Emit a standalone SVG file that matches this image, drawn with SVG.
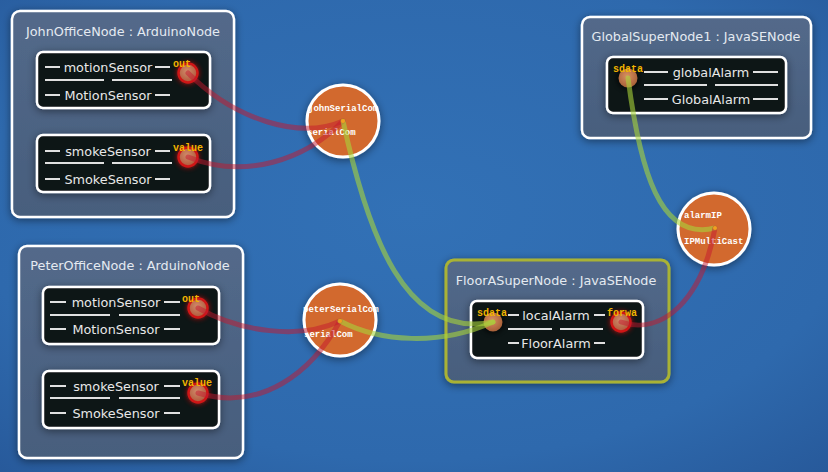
<svg xmlns="http://www.w3.org/2000/svg" width="828" height="472" viewBox="0 0 828 472">
<defs>
<radialGradient id="bg" cx="50%" cy="45%" r="75%">
<stop offset="0" stop-color="#3271b6"/>
<stop offset="0.7" stop-color="#2e69ad"/>
<stop offset="1" stop-color="#27599a"/>
</radialGradient>
<linearGradient id="panel" x1="0" y1="0" x2="0" y2="1">
<stop offset="0" stop-color="#53698a"/>
<stop offset="1" stop-color="#475e7d"/>
</linearGradient>
<radialGradient id="portRed" cx="45%" cy="40%" r="60%">
<stop offset="0" stop-color="#d08a6a"/>
<stop offset="1" stop-color="#b0583a"/>
</radialGradient>
<radialGradient id="portIn" cx="45%" cy="40%" r="60%">
<stop offset="0" stop-color="#d89060"/>
<stop offset="1" stop-color="#a86038"/>
</radialGradient>
<filter id="sh" x="-20%" y="-20%" width="140%" height="140%">
<feDropShadow dx="0" dy="2" stdDeviation="4" flood-color="#000" flood-opacity="0.45"/>
</filter>
<filter id="glow" x="-80%" y="-80%" width="260%" height="260%">
<feGaussianBlur stdDeviation="2"/>
</filter>
<style>
.outer{fill:url(#panel);stroke:#ffffff;stroke-width:2.5}
.outerA{fill:url(#panel);stroke:#a9b234;stroke-width:3}
.inner{fill:#111315;stroke:#ffffff;stroke-width:2.5}
.title{font-family:"DejaVu Sans",sans-serif;font-size:12.8px;fill:#e4eaf1;text-anchor:middle}
.row{font-family:"DejaVu Sans",sans-serif;font-size:12.8px;fill:#e8e8e8;text-anchor:middle}
.dash{stroke:#e0e0e0;stroke-width:2}
.pl{font-family:"Liberation Mono",monospace;font-weight:bold;font-size:10px;fill:#f2b400}
.pr{fill:url(#portRed);stroke:#cf1616;stroke-width:2.5}
.pi{fill:url(#portIn);stroke:none}
.hub{fill:#d2692f;stroke:#ffffff;stroke-width:3}
.hl{font-family:"Liberation Mono",monospace;font-weight:bold;font-size:9px;fill:#ffffff}
.red{fill:none;stroke:#c4182e;stroke-opacity:0.5;stroke-width:5;stroke-linecap:round}
.grn{fill:none;stroke:#a8d43a;stroke-opacity:0.6;stroke-width:5;stroke-linecap:round}
</style>
</defs>
<rect width="828" height="472" fill="url(#bg)"/>

<g id="JohnOfficeNode">
<rect class="outer" x="12" y="11" width="222" height="206" rx="8" filter="url(#sh)"/>
<text class="title" x="123" y="36">JohnOfficeNode : ArduinoNode</text>
<g id="John_motionSensor">
<rect class="inner" x="37" y="52" width="173" height="56" rx="6" filter="url(#sh)"/>
<line class="dash" x1="45" y1="67" x2="60" y2="67"/><text class="row" x="108" y="72">motionSensor</text><line class="dash" x1="155" y1="67" x2="170" y2="67"/>
<line class="dash" x1="45" y1="80" x2="104" y2="80"/><line class="dash" x1="112" y1="80" x2="172" y2="80"/>
<line class="dash" x1="45" y1="95" x2="60" y2="95"/><text class="row" x="108" y="100">MotionSensor</text><line class="dash" x1="155" y1="95" x2="170" y2="95"/>
<circle cx="188" cy="73" r="12" fill="#d01010" opacity="0.5" filter="url(#glow)"/>
<circle class="pr" cx="188" cy="73" r="9.5"/>
<text class="pl" x="173" y="67">out</text>
</g>
<g id="John_smokeSensor">
<rect class="inner" x="37" y="135" width="173" height="57" rx="6" filter="url(#sh)"/>
<line class="dash" x1="45" y1="151" x2="60" y2="151"/><text class="row" x="108" y="156">smokeSensor</text><line class="dash" x1="155" y1="151" x2="170" y2="151"/>
<line class="dash" x1="45" y1="163" x2="104" y2="163"/><line class="dash" x1="112" y1="163" x2="172" y2="163"/>
<line class="dash" x1="45" y1="179" x2="60" y2="179"/><text class="row" x="108" y="184">SmokeSensor</text><line class="dash" x1="155" y1="179" x2="170" y2="179"/>
<circle cx="188" cy="157" r="12" fill="#d01010" opacity="0.5" filter="url(#glow)"/>
<circle class="pr" cx="188" cy="157" r="9.5"/>
<text class="pl" x="173" y="151">value</text>
</g>
</g>

<g id="PeterOfficeNode">
<rect class="outer" x="19" y="246" width="224" height="212" rx="8" filter="url(#sh)"/>
<text class="title" x="130" y="270">PeterOfficeNode : ArduinoNode</text>
<g id="Peter_motionSensor">
<rect class="inner" x="43" y="287" width="176" height="57" rx="6" filter="url(#sh)"/>
<line class="dash" x1="50" y1="302" x2="66" y2="302"/><text class="row" x="116" y="307">motionSensor</text><line class="dash" x1="164" y1="302" x2="180" y2="302"/>
<line class="dash" x1="50" y1="315" x2="110" y2="315"/><line class="dash" x1="119" y1="315" x2="180" y2="315"/>
<line class="dash" x1="50" y1="329" x2="66" y2="329"/><text class="row" x="116" y="334">MotionSensor</text><line class="dash" x1="164" y1="329" x2="180" y2="329"/>
<circle cx="198" cy="308" r="12" fill="#d01010" opacity="0.5" filter="url(#glow)"/>
<circle class="pr" cx="198" cy="308" r="9.5"/>
<text class="pl" x="182" y="302">out</text>
</g>
<g id="Peter_smokeSensor">
<rect class="inner" x="43" y="371" width="176" height="57" rx="6" filter="url(#sh)"/>
<line class="dash" x1="50" y1="386" x2="66" y2="386"/><text class="row" x="116" y="391">smokeSensor</text><line class="dash" x1="164" y1="386" x2="180" y2="386"/>
<line class="dash" x1="50" y1="398" x2="110" y2="398"/><line class="dash" x1="119" y1="398" x2="180" y2="398"/>
<line class="dash" x1="50" y1="413" x2="66" y2="413"/><text class="row" x="116" y="418">SmokeSensor</text><line class="dash" x1="164" y1="413" x2="180" y2="413"/>
<circle cx="198" cy="393" r="12" fill="#d01010" opacity="0.5" filter="url(#glow)"/>
<circle class="pr" cx="198" cy="393" r="9.5"/>
<text class="pl" x="182" y="386">value</text>
</g>
</g>

<g id="FloorASuperNode">
<rect class="outerA" x="446" y="260" width="223" height="122" rx="8" filter="url(#sh)"/>
<text class="title" x="556" y="285">FloorASuperNode : JavaSENode</text>
<g id="FloorA_localAlarm">
<rect class="inner" x="471" y="301" width="172" height="57" rx="6" filter="url(#sh)"/>
<line class="dash" x1="508" y1="315" x2="519" y2="315"/><text class="row" x="556" y="320">localAlarm</text><line class="dash" x1="594" y1="315" x2="605" y2="315"/>
<line class="dash" x1="508" y1="329" x2="552" y2="329"/><line class="dash" x1="560" y1="329" x2="603" y2="329"/>
<line class="dash" x1="508" y1="343" x2="519" y2="343"/><text class="row" x="556" y="348">FloorAlarm</text><line class="dash" x1="594" y1="343" x2="605" y2="343"/>
<circle cx="493" cy="322" r="12" fill="#000" opacity="0.5" filter="url(#glow)"/>
<circle class="pi" cx="493" cy="322" r="9.5"/>
<text class="pl" x="477" y="316">sdata</text>
<circle cx="621" cy="322" r="12" fill="#d01010" opacity="0.5" filter="url(#glow)"/>
<circle class="pr" cx="621" cy="322" r="9.5"/>
<text class="pl" x="607" y="316">forwa</text>
</g>
</g>

<g id="GlobalSuperNode1">
<rect class="outer" x="582" y="17" width="229" height="121" rx="8" filter="url(#sh)"/>
<text class="title" x="696" y="41">GlobalSuperNode1 : JavaSENode</text>
<g id="Global_globalAlarm">
<rect class="inner" x="607" y="57" width="179" height="56" rx="6" filter="url(#sh)"/>
<line class="dash" x1="644" y1="72" x2="668" y2="72"/><text class="row" x="711" y="77">globalAlarm</text><line class="dash" x1="753" y1="72" x2="778" y2="72"/>
<line class="dash" x1="644" y1="85" x2="707" y2="85"/><line class="dash" x1="715" y1="85" x2="778" y2="85"/>
<line class="dash" x1="644" y1="99" x2="668" y2="99"/><text class="row" x="711" y="104">GlobalAlarm</text><line class="dash" x1="753" y1="99" x2="778" y2="99"/>
<circle cx="628" cy="78" r="12" fill="#000" opacity="0.5" filter="url(#glow)"/>
<circle class="pi" cx="628" cy="78" r="9.5"/>
<text class="pl" x="613" y="72">sdata</text>
</g>
</g>

<g id="johnSerialCom">
<circle class="hub" cx="343" cy="121" r="36" filter="url(#sh)"/>
<text class="hl" x="308" y="111">johnSerialCom</text>
<text class="hl" x="307" y="135">serialCom</text>
</g>
<g id="peterSerialCom">
<circle class="hub" cx="340" cy="320" r="36" filter="url(#sh)"/>
<text class="hl" x="303" y="312">peterSerialCom</text>
<text class="hl" x="304" y="337">serialCom</text>
</g>
<g id="alarmIP">
<circle class="hub" cx="714" cy="229" r="36" filter="url(#sh)"/>
<text class="hl" x="684" y="218">alarmIP</text>
<text class="hl" x="684" y="244">IPMultiCast</text>
</g>

<g id="connectors">
<path class="red" d="M188,73 C235,120 300,140 343,121"/>
<path class="red" d="M188,157 C245,180 305,160 343,121"/>
<path class="grn" d="M343,121 C368,235 405,340 493,322"/>
<path class="red" d="M198,308 C240,332 300,340 340,321"/>
<path class="red" d="M198,393 C262,412 312,372 340,321"/>
<path class="grn" d="M340,321 C380,342 440,346 493,322"/>
<path class="grn" d="M628,78 C640,170 660,242 715,228"/>
<path class="red" d="M621,322 C662,336 702,300 715,228"/>
<circle cx="343" cy="121" r="2" fill="#f0a020"/>
<circle cx="340" cy="321" r="2" fill="#f0a020"/>
<circle cx="715" cy="228" r="2" fill="#f0a020"/>
</g>
</svg>
